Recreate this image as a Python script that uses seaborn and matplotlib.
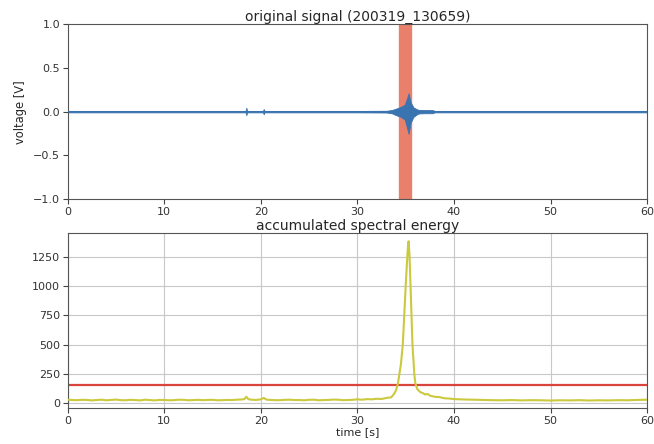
import numpy as np
import pandas as pd
import seaborn as sb
import matplotlib
matplotlib.use("Agg")
import matplotlib.pyplot as plt

# Signal envelope (time [s], upper / lower voltage)
sig_time = [0, 5, 10, 15, 18.42, 18.5, 18.58, 20.22, 20.3, 20.38, 25, 30, 33.0, 33.6,
            34.0, 34.5, 34.9, 35.1, 35.3, 35.5, 35.8, 36.2, 36.4, 37.0, 37.8, 38.0,
            45, 50, 55, 60]
sig_upper = [0.008, 0.008, 0.008, 0.008, 0.008, 0.045, 0.008, 0.008, 0.03, 0.008, 0.008,
             0.008, 0.01, 0.02, 0.035, 0.055, 0.08, 0.14, 0.21, 0.11, 0.05, 0.025,
             0.02, 0.018, 0.018, 0.008, 0.008, 0.008, 0.008, 0.008]
sig_lower = [-0.008, -0.008, -0.008, -0.008, -0.008, -0.04, -0.008, -0.008, -0.03, -0.008,
             -0.008, -0.008, -0.01, -0.02, -0.04, -0.06, -0.09, -0.17, -0.255, -0.13,
             -0.06, -0.028, -0.02, -0.018, -0.018, -0.008, -0.008, -0.008, -0.008, -0.008]

# Detection window
win_start = 34.35
win_end = 35.6

# Accumulated spectral energy
energy_time = [0, 0.5, 1, 1.5, 2, 2.5, 3, 3.5, 4, 4.5, 5, 5.5, 6, 6.5, 7, 7.5, 8, 8.5, 9, 9.5,
               10, 10.5, 11, 11.5, 12, 12.5, 13, 13.5, 14, 14.5, 15, 15.5, 16, 16.5, 17, 17.5,
               18, 18.3, 18.5, 18.7, 19, 19.5, 20, 20.3, 20.6, 21, 21.5, 22, 22.5, 23, 23.5,
               24, 24.5, 25, 25.5, 26, 26.5, 27, 27.5, 28, 28.5, 29, 29.5, 30, 30.5, 31,
               31.5, 32, 32.5, 33, 33.5, 33.8, 34.0, 34.2, 34.5, 34.7, 35.0, 35.2, 35.3,
               35.4, 35.5, 35.7, 35.9, 36.0, 36.2, 36.5, 36.8, 37.0, 37.3, 37.5, 38.0,
               38.5, 39, 39.5, 40, 41, 42, 43, 44, 45, 46, 47, 48, 49, 50, 51, 52, 53,
               54, 55, 56, 57, 58, 59, 60]
energy_vals = [30, 27, 26, 29, 28, 24, 27, 30, 25, 28, 31, 26, 25, 29, 27, 24, 30, 27, 24, 28,
               28, 25, 26, 30, 29, 25, 27, 29, 26, 28, 29, 25, 26, 28, 27, 30,
               32, 35, 55, 35, 30, 28, 33, 45, 30, 28, 26, 26, 29, 30, 27,
               27, 25, 29, 30, 25, 27, 28, 31, 30, 26, 27, 29, 33, 30, 35,
               33, 38, 36, 45, 50, 80, 110, 170, 330, 500, 1000, 1300, 1380,
               1250, 1000, 500, 240, 170, 120, 95, 85, 75, 78, 65, 55,
               52, 42, 40, 35, 32, 30, 28, 26, 25, 27, 24, 26, 25, 23, 25, 24, 26,
               23, 25, 24, 26, 25, 28, 30]
threshold = 155

sb.set_style("ticks")
plt.rcParams["font.family"] = ["DejaVu Sans"]

fig = plt.figure(figsize=(6.54, 4.44), dpi=100)
ax1 = fig.add_axes([0.1035, 0.552, 0.886, 0.393])
ax2 = fig.add_axes([0.1035, 0.080, 0.886, 0.3945])

# top: original signal
sig = pd.DataFrame({"t": sig_time, "hi": sig_upper, "lo": sig_lower})
sig["mid"] = (sig["hi"] + sig["lo"]) / 2
ax1.axvspan(win_start, win_end, color="#e8806c", zorder=1)
ax1.fill_between(sig["t"], sig["lo"], sig["hi"], color="#3a74b0", lw=0.6, zorder=2)
sb.lineplot(data=sig, x="t", y="mid", ax=ax1, color="#3a74b0", lw=1.0, zorder=3)
ax1.set_xlim(0, 60)
ax1.set_ylim(-1, 1)
ax1.set_yticks([-1.0, -0.5, 0.0, 0.5, 1.0])
ax1.set_xlabel("")
ax1.set_ylabel("voltage [V]", fontsize=8.3)
ax1.set_title("original signal (200319_130659)", fontsize=10, pad=2)

# bottom: accumulated spectral energy
energy = pd.DataFrame({"t": energy_time, "e": energy_vals})
sb.lineplot(data=energy, x="t", y="e", ax=ax2, color="#cbc93e", lw=1.5, zorder=3)
ax2.axhline(threshold, color="#d9443c", lw=1.6, zorder=2)
ax2.set_xlim(0, 60)
ax2.set_yticks([0, 250, 500, 750, 1000, 1250])
ax2.grid(True, color="#c8c8c8", lw=0.8)
ax2.set_ylabel("")
ax2.set_xlabel("time [s]", fontsize=8, labelpad=1)
ax2.set_title("accumulated spectral energy", fontsize=10, pad=2)

for ax in (ax1, ax2):
    ax.tick_params(labelsize=8, length=3.5, pad=2, color="#444444", labelcolor="#333333")
    for s in ax.spines.values():
        s.set_color("#555555")
        s.set_visible(True)

fig.savefig("out.png", dpi=100)
